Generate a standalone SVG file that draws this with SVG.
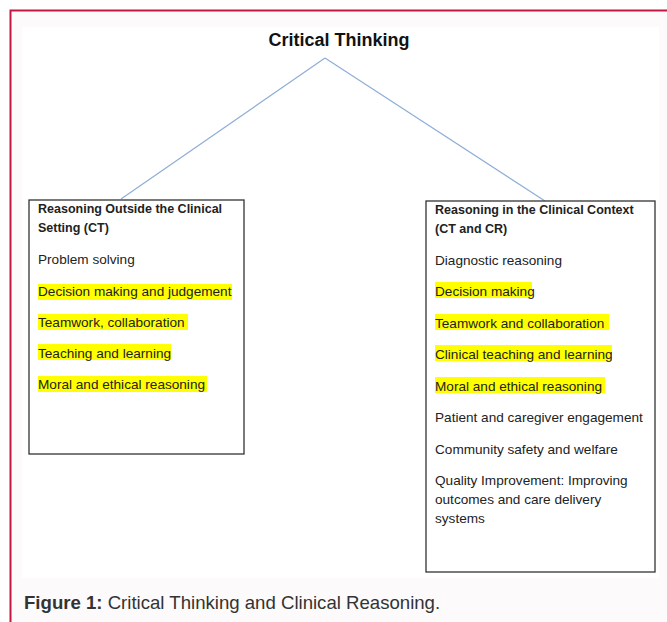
<svg xmlns="http://www.w3.org/2000/svg" width="667" height="622" viewBox="0 0 667 622">
<style>
.t{font-family:"Liberation Sans",Arial,sans-serif;font-size:13.6px;fill:#222}
.h{font-family:"Liberation Sans",Arial,sans-serif;font-size:12.5px;font-weight:bold;fill:#222}
.hl{fill:#ffff00}
.box{fill:#fff;stroke:#333;stroke-width:1.3}
.conn{stroke:#8eaed6;stroke-width:1.2;fill:none}
</style>
<rect x="0" y="0" width="667" height="622" fill="#fff"/>
<rect x="10.5" y="10.5" width="660" height="620" fill="#fcfafb"/>
<path d="M10.5 622V10.5H667" fill="none" stroke="#c4173f" stroke-width="2"/>
<rect x="22" y="27" width="637" height="551" fill="#fff"/>
<g id="connectors">
<line class="conn" x1="325" y1="58" x2="121" y2="199"/>
<line class="conn" x1="325" y1="58" x2="545" y2="201"/>
</g>
<g id="title">
<text x="339" y="46" text-anchor="middle" font-family="Liberation Sans,Arial,sans-serif" font-size="18" font-weight="bold" fill="#111">Critical Thinking</text>
</g>
<g id="outside">
<rect class="box" x="29" y="200" width="215" height="254"/>
<text class="h" x="38" y="213">Reasoning Outside the Clinical</text>
<text class="h" x="38" y="232">Setting (CT)</text>
<text class="t" x="38" y="264">Problem solving</text>
<rect class="hl" x="38" y="284" width="194" height="16"/>
<text class="t" x="38" y="296">Decision making and judgement</text>
<rect class="hl" x="38" y="314" width="150" height="16"/>
<text class="t" x="38" y="327">Teamwork, collaboration</text>
<rect class="hl" x="38" y="344" width="133" height="16"/>
<text class="t" x="38" y="358">Teaching and learning</text>
<rect class="hl" x="38" y="376" width="169" height="16"/>
<text class="t" x="38" y="389">Moral and ethical reasoning</text>
</g>
<g id="inside">
<rect class="box" x="426" y="201" width="229" height="371"/>
<text class="h" x="435" y="214">Reasoning in the Clinical Context</text>
<text class="h" x="435" y="233">(CT and CR)</text>
<text class="t" x="435" y="265">Diagnostic reasoning</text>
<rect class="hl" x="435" y="282" width="97" height="16"/>
<text class="t" x="435" y="296">Decision making</text>
<rect class="hl" x="435" y="314" width="174" height="16"/>
<text class="t" x="435" y="328">Teamwork and collaboration</text>
<rect class="hl" x="435" y="345" width="177" height="16"/>
<text class="t" x="435" y="359">Clinical teaching and learning</text>
<rect class="hl" x="435" y="377" width="170" height="16"/>
<text class="t" x="435" y="391">Moral and ethical reasoning</text>
<text class="t" x="435" y="422">Patient and caregiver engagement</text>
<text class="t" x="435" y="454">Community safety and welfare</text>
<text class="t" x="435" y="485">Quality Improvement: Improving</text>
<text class="t" x="435" y="504">outcomes and care delivery</text>
<text class="t" x="435" y="523">systems</text>
</g>
<text x="24" y="609" font-family="Liberation Sans,Arial,sans-serif" font-size="18.6" fill="#333"><tspan font-weight="bold">Figure 1:</tspan> Critical Thinking and Clinical Reasoning.</text>
</svg>
